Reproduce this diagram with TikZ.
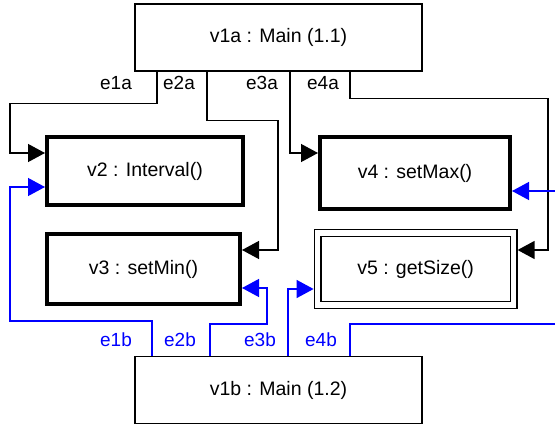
\documentclass[tikz,border=0pt]{standalone}
\usepackage{fontspec}
\setmainfont{Liberation Sans}
\usetikzlibrary{arrows.meta, calc, positioning}
\definecolor{linkBlue}{HTML}{0000FF}
\tikzset{
  mainbox/.style   = {draw, line width=1.3pt, minimum width=287pt, minimum height=67pt,
                      inner sep=0pt, font=\fontsize{19.5}{23}\selectfont},
  callbox/.style   = {draw, line width=4pt, inner sep=0pt, font=\fontsize{19.5}{23}\selectfont},
  querybox/.style  = {draw, line width=1.2pt, double, double distance=5.6pt, outer sep=4pt,
                      inner sep=0pt, font=\fontsize{19.5}{23}\selectfont},
  edgea/.style     = {-{Triangle[length=17pt, width=18pt]}, line width=1.3pt, black},
  edgeb/.style     = {-{Triangle[length=17pt, width=18pt]}, line width=1.3pt, linkBlue},
  elbl/.style      = {inner sep=0pt, font=\fontsize{19}{23}\selectfont},
}
\begin{document}
\begin{tikzpicture}[x=1pt, y=-1pt]
\useasboundingbox (0,0) rectangle (555,424);
\clip (0,0) rectangle (555,424);
% calling and called nodes
\node[mainbox] (v1a) at (278.5,37.5) {v1a : Main (1.1)};
\node[mainbox] (v1b) at (278.5,390) {v1b : Main (1.2)};
\node[callbox, minimum width=196pt, minimum height=68pt] (v2) at (145,171) {v2 : Interval()};
\node[callbox, minimum width=193pt, minimum height=70pt] (v3) at (143.5,269) {v3 : setMin()};
\node[callbox, minimum width=190pt, minimum height=72pt] (v4) at (415,173) {v4 : setMax()};
\node[querybox, minimum width=196pt, minimum height=72pt] (v5) at (415.6,269) {v5 : getSize()};
% edges out of v1a
\draw[edgea] ([xshift=-121.5pt]v1a.south) -- ++(0,32) -| (10,153) -- ([yshift=18pt]v2.west);
\draw[edgea] ([xshift=-71.5pt]v1a.south) -- ++(0,49) -| (278,250) -- ([yshift=19pt]v3.east);
\draw[edgea] ([xshift=11.5pt]v1a.south) |- ([yshift=20pt]v4.west);
\draw[edgea] ([xshift=71.5pt]v1a.south) -- ++(0,27) -| (548,250) -- ([yshift=19pt]v5.east);
\node[elbl] (e1a) at (116,83) {e1a};
\node[elbl] (e2a) at (179,83) {e2a};
\node[elbl] (e3a) at (262,83) {e3a};
\node[elbl] (e4a) at (323,83) {e4a};
% edges out of v1b
\draw[edgeb] ([xshift=-126.5pt]v1b.north) -- ++(0,-35) -| (10,187) -- ([yshift=-16pt]v2.west);
\draw[edgeb] ([xshift=-68.5pt]v1b.north) -- ++(0,-32) -| (267,288) -- ([yshift=-19pt]v3.east);
\draw[edgeb] ([xshift=9.5pt]v1b.north) |- ([yshift=-20pt]v5.west);
\draw[edgeb] ([xshift=71.5pt]v1b.north) -- ++(0,-32) -| (570,191) -- ([yshift=-18pt]v4.east);
\node[elbl, linkBlue] (e1b) at (116,340) {e1b};
\node[elbl, linkBlue] (e2b) at (180,340) {e2b};
\node[elbl, linkBlue] (e3b) at (260,340) {e3b};
\node[elbl, linkBlue] (e4b) at (321,340) {e4b};
\end{tikzpicture}
\end{document}
